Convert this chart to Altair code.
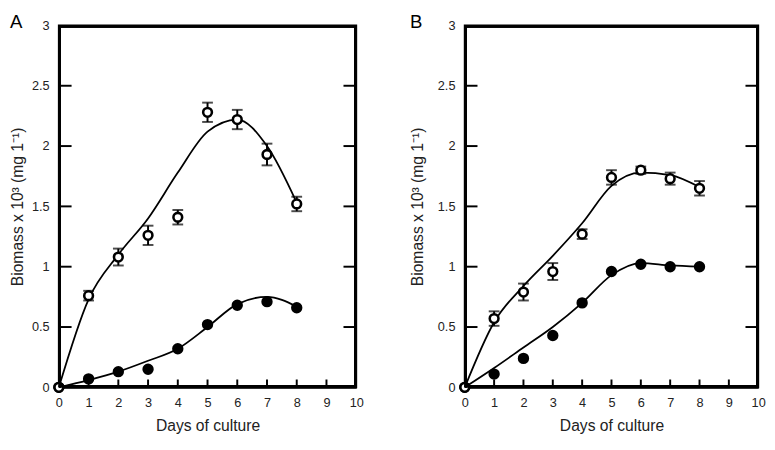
import altair as alt
import pandas as pd

days = [0, 1, 2, 3, 4, 5, 6, 7, 8]

# Panel A
a_open = [0, 0.76, 1.08, 1.26, 1.41, 2.28, 2.22, 1.93, 1.52]
a_open_err = [0, 0.04, 0.07, 0.08, 0.06, 0.08, 0.08, 0.09, 0.06]
a_filled = [0, 0.07, 0.13, 0.15, 0.32, 0.52, 0.68, 0.71, 0.66]
a_open_fit = [0, 0.73, 1.10, 1.40, 1.78, 2.12, 2.22, 2.00, 1.53]
a_filled_fit = [0, 0.06, 0.13, 0.22, 0.32, 0.50, 0.69, 0.75, 0.67]

# Panel B
b_open = [0, 0.57, 0.79, 0.96, 1.27, 1.74, 1.80, 1.73, 1.65]
b_open_err = [0, 0.06, 0.07, 0.07, 0.04, 0.06, 0.03, 0.05, 0.06]
b_filled = [0, 0.11, 0.24, 0.43, 0.70, 0.96, 1.02, 1.00, 1.00]
b_open_fit = [0, 0.54, 0.84, 1.09, 1.36, 1.67, 1.78, 1.76, 1.66]
b_filled_fit = [0, 0.16, 0.33, 0.50, 0.70, 0.93, 1.03, 1.01, 1.00]

y_labels = [0, 0.5, 1, 1.5, 2, 2.5, 3]
y_inner_ticks = [0.5, 1, 1.5, 2, 2.5]
x_labels = [0, 1, 2, 3, 4, 5, 6, 7, 8, 9, 10]
x_inner_ticks = [1, 2, 3, 4, 5, 6, 7, 8, 9]

FONT = "Liberation Sans"
TXT = "#222222"
Y_TITLE = "Biomass x 10³ (mg 1⁻¹)"
X_TITLE = "Days of culture"


def x_axis():
    return alt.Axis(values=x_labels, ticks=False, tickSize=0, domain=True,
                    domainColor="black", domainWidth=2, grid=False,
                    labelFlush=False, labelPadding=10, labelFontSize=13, labelFont=FONT,
                    labelColor=TXT, title=X_TITLE, titleFont=FONT, titleFontSize=16,
                    titleFontWeight="normal", titleColor=TXT, titlePadding=8)


def y_axis(tpad):
    return alt.Axis(values=y_labels, labelExpr="datum.value", ticks=False, tickSize=0,
                    domain=True, domainColor="black", domainWidth=2, grid=False,
                    labelFlush=False, labelPadding=10,
                    labelFontSize=13, labelFont=FONT, labelColor=TXT, title=Y_TITLE,
                    titleFont=FONT, titleFontSize=16, titleFontWeight="normal",
                    titleColor=TXT, titlePadding=tpad)


XS = alt.Scale(domain=[0, 10], nice=False, zero=False)
YS = alt.Scale(domain=[0, 3], nice=False)


def panel(letter, letter_x, tpad, o, oe, f, ofit, ffit, W, H):
    def X(field):
        return alt.X(field, type="quantitative", scale=XS, axis=x_axis())

    def Y(field):
        return alt.Y(field, type="quantitative", scale=YS, axis=y_axis(tpad))

    df = pd.DataFrame({"day": days, "open": o, "err": oe, "filled": f,
                       "ofit": ofit, "ffit": ffit})
    df["lo"] = df["open"] - df["err"]
    df["hi"] = df["open"] + df["err"]
    df_err = df[df["day"] > 0]
    base = alt.Chart(df)
    yt = alt.Chart(pd.DataFrame({"v": y_inner_ticks}))
    xt = alt.Chart(pd.DataFrame({"d": x_inner_ticks}))

    # plot frame drawn just inside the plot area
    top_edge = yt.mark_rule(color="black", strokeWidth=2).encode(
        x=alt.value(0), x2=alt.value(W), y=alt.value(1))
    bottom_edge = yt.mark_rule(color="black", strokeWidth=2).encode(
        x=alt.value(0), x2=alt.value(W), y=alt.value(H - 1))
    left_edge = xt.mark_rule(color="black", strokeWidth=2).encode(
        x=alt.value(1), y=alt.value(0), y2=alt.value(H))
    right_edge = xt.mark_rule(color="black", strokeWidth=2).encode(
        x=alt.value(W - 1), y=alt.value(0), y2=alt.value(H))

    left_ticks = yt.mark_rule(color="black", strokeWidth=2).encode(
        y=Y("v"), x=alt.value(0), x2=alt.value(13))
    right_ticks = yt.mark_rule(color="black", strokeWidth=2).encode(
        y=Y("v"), x=alt.value(W - 13), x2=alt.value(W))
    bottom_ticks = xt.mark_rule(color="black", strokeWidth=2).encode(
        x=X("d"), y=alt.value(H - 8), y2=alt.value(H))

    fline_f = base.mark_line(color="black", strokeWidth=1.8, interpolate="monotone").encode(
        x=X("day"), y=Y("ffit"))
    fline_o = base.mark_line(color="black", strokeWidth=1.8, interpolate="monotone").encode(
        x=X("day"), y=Y("ofit"))
    ebar = alt.Chart(df_err).mark_rule(color="black", strokeWidth=2).encode(
        x=X("day"), y=Y("lo"), y2="hi")
    cap_lo = alt.Chart(df_err).mark_tick(color="black", orient="horizontal", size=11,
                                          thickness=2).encode(x=X("day"), y=Y("lo"))
    cap_hi = alt.Chart(df_err).mark_tick(color="black", orient="horizontal", size=11,
                                          thickness=2).encode(x=X("day"), y=Y("hi"))
    pts_f = base.mark_point(shape="circle", filled=True, color="black", size=135,
                            opacity=1).encode(x=X("day"), y=Y("filled"))
    pts_o = base.mark_point(shape="circle", filled=False, fill="white", fillOpacity=1,
                            stroke="black", strokeWidth=2.6, size=80, opacity=1).encode(
        x=X("day"), y=Y("open"))

    lab = alt.Chart(pd.DataFrame({"t": [letter]})).mark_text(
        align="left", baseline="top", fontSize=19, font=FONT, color="black"
    ).encode(text="t:N", x=alt.value(letter_x), y=alt.value(-12))

    return alt.layer(left_ticks, right_ticks, bottom_ticks,
                     fline_f, fline_o, ebar, cap_lo, cap_hi, pts_f, pts_o,
                     top_edge, bottom_edge, left_edge, right_edge,
                     lab).properties(width=W, height=H)


pA = panel("A", -50, 6, a_open, a_open_err, a_filled, a_open_fit, a_filled_fit, 304, 370)
pB = panel("B", -56, 12, b_open, b_open_err, b_filled, b_open_fit, b_filled_fit, 300, 370)

chart = alt.hconcat(pA, pB, spacing=44).properties(
    padding={"left": 0, "top": 0, "right": 0, "bottom": 0}
).configure_view(stroke="black", strokeWidth=2)

chart.save("out.html", embed_options={"renderer": "svg", "actions": False})
